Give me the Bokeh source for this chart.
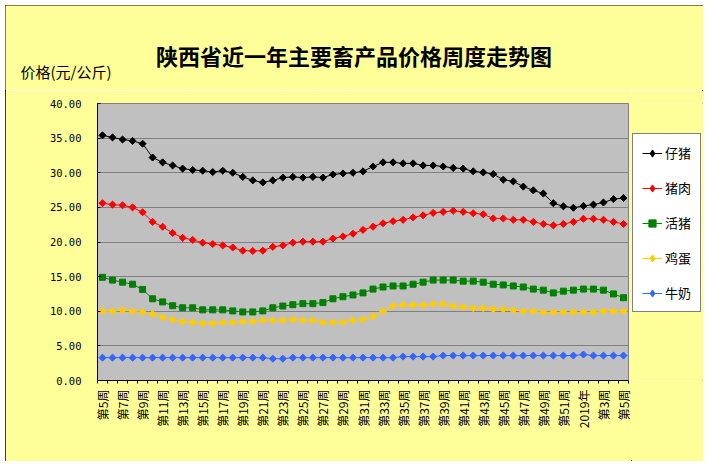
import numpy as np
from bokeh.plotting import figure
from bokeh.layouts import column, row
from bokeh.models import (ColumnDataSource, FixedTicker, Legend, LegendItem,
                          Label, Range1d, InlineStyleSheet)
from bokeh.embed import file_html
from bokeh.resources import INLINE

# ---------------- data ----------------
weeks = list(range(53))
tick_labels = ["第5周", "第7周", "第9周", "第11周", "第13周", "第15周", "第17周",
               "第19周", "第21周", "第23周", "第25周", "第27周", "第29周", "第31周",
               "第33周", "第35周", "第37周", "第39周", "第41周", "第43周", "第45周",
               "第47周", "第49周", "第51周", "2019年", "第3周", "第5周"]

piglet = [35.4, 35.1, 34.8, 34.6, 34.2, 32.2, 31.5, 31.05, 30.6, 30.4,
          30.3, 30.1, 30.3, 30.0, 29.4, 28.9, 28.6, 28.9, 29.3, 29.4,
          29.3, 29.4, 29.3, 29.75, 29.9, 30.0, 30.2,
          30.9, 31.5, 31.5, 31.35, 31.35, 31.05, 31.05, 30.9, 30.7, 30.6,
          30.2, 30.05, 29.8, 29.0, 28.75, 28.0, 27.45, 27.0, 25.6, 25.15,
          24.95, 25.2, 25.4, 25.7, 26.2, 26.35]
pork = [25.6, 25.4, 25.3, 25.0, 24.3, 22.9, 22.2, 21.3, 20.6, 20.3,
        19.9, 19.7, 19.5, 19.2, 18.75, 18.7, 18.75, 19.3, 19.5, 19.9,
        20.05, 20.05, 20.05, 20.5, 20.8, 21.2, 21.75,
        22.2, 22.7, 23.0, 23.2, 23.55, 23.85, 24.2, 24.35, 24.5, 24.35,
        24.15, 24.0, 23.4, 23.4, 23.2, 23.2, 22.9, 22.6, 22.4, 22.6,
        22.9, 23.35, 23.35, 23.2, 22.9, 22.6]
live_pig = [14.9, 14.5, 14.2, 13.9, 13.15, 11.8, 11.35, 10.8, 10.5, 10.5,
            10.2, 10.2, 10.2, 10.05, 9.9, 9.9, 10.05, 10.5, 10.75, 10.95,
            11.1, 11.1, 11.25, 11.8, 12.1, 12.35, 12.65,
            13.2, 13.5, 13.65, 13.65, 13.9, 14.2, 14.5, 14.5, 14.5, 14.35,
            14.35, 14.2, 13.9, 13.8, 13.65, 13.5, 13.2, 13.05, 12.65, 12.9,
            13.05, 13.2, 13.2, 13.05, 12.5, 11.95]
egg = [10.0, 10.0, 10.15, 10.0, 9.85, 9.6, 9.1, 8.8, 8.5, 8.4,
       8.25, 8.25, 8.4, 8.4, 8.55, 8.55, 8.7, 8.7, 8.7, 8.8,
       8.7, 8.7, 8.4, 8.4, 8.4, 8.7, 8.8,
       9.25, 10.0, 10.75, 10.9, 10.9, 10.9, 11.05, 11.05, 10.75, 10.6,
       10.45, 10.45, 10.3, 10.3, 10.15, 10.0, 10.0, 9.85, 9.85, 9.85,
       9.85, 9.85, 9.85, 10.0, 10.0, 10.0]
milk = [3.3] * 17 + [3.15, 3.15] + [3.3] * 11 + [3.45] * 4 + [3.6] * 14 + [3.75] + [3.6] * 4

series_names = ["仔猪", "猪肉", "活猪", "鸡蛋", "牛奶"]
y_ticks = [0, 5, 10, 15, 20, 25, 30, 35, 40]
y_tick_labels = ["0.00", "5.00", "10.00", "15.00", "20.00", "25.00", "30.00", "35.00", "40.00"]
title_text = "陕西省近一年主要畜产品价格周度走势图"
ylabel_text = "价格(元/公斤)"

CJK = "Noto Sans CJK SC"
BG = "#FFFF99"

# ---------------- header strip (title + y caption) ----------------
top = figure(width=698, height=85, output_backend="svg", toolbar_location=None,
             x_range=Range1d(0, 1), y_range=Range1d(0, 1),
             x_axis_location=None, y_axis_location=None, title=None,
             min_border=0, min_border_left=0, min_border_right=0,
             min_border_top=0, min_border_bottom=0)
top.grid.visible = False
top.outline_line_color = None
top.background_fill_color = BG
top.border_fill_color = BG
top.add_layout(Label(x=348.5, y=36, x_units="screen", y_units="screen",
                     text=title_text, text_align="center", text_baseline="middle",
                     text_font=CJK, text_font_size="22px", text_font_style="bold",
                     text_color="black"))
top.add_layout(Label(x=15, y=19, x_units="screen", y_units="screen",
                     text=ylabel_text, text_align="left", text_baseline="middle",
                     text_font=CJK, text_font_size="15px", text_color="black"))

# ---------------- main chart ----------------
p = figure(width=626, height=371, output_backend="svg", toolbar_location=None,
           x_range=Range1d(-0.5, 52.5), y_range=Range1d(0, 40), title=None,
           min_border_left=92, min_border_right=3, min_border_top=13,
           min_border_bottom=81)
p.background_fill_color = "#C0C0C0"
p.border_fill_color = BG
p.outline_line_color = "#808080"
p.xgrid.visible = False
p.ygrid.grid_line_color = "#808080"
p.ygrid.grid_line_width = 1

p.yaxis.ticker = FixedTicker(ticks=y_ticks)
p.yaxis.major_label_overrides = {t: s for t, s in zip(y_ticks, y_tick_labels)}
p.yaxis.major_tick_in = 3
p.yaxis.major_tick_out = 0
p.yaxis.minor_tick_line_color = None
p.yaxis.axis_line_color = "black"
p.yaxis.major_label_standoff = 16
p.yaxis.major_label_text_font = "DejaVu Sans Mono"
p.yaxis.major_label_text_font_size = "10.5px"
p.yaxis.major_label_text_color = "black"

label_pos = weeks[::2]
p.xaxis.ticker = FixedTicker(ticks=label_pos, minor_ticks=[w - 0.5 for w in weeks] + [52.5])
p.xaxis.major_label_overrides = {t: s for t, s in zip(label_pos, tick_labels)}
p.xaxis.major_tick_in = 0
p.xaxis.major_tick_out = 0
p.xaxis.minor_tick_in = 0
p.xaxis.minor_tick_out = 3
p.xaxis.minor_tick_line_color = "black"
p.xaxis.axis_line_color = "black"
p.xaxis.major_label_orientation = np.pi / 2
p.xaxis.major_label_standoff = 6
p.xaxis.major_label_text_font = CJK
p.xaxis.major_label_text_font_size = "12px"
p.xaxis.major_label_text_color = "black"

specs = [
    (piglet, "black", "diamond"),
    (pork, "#FF0000", "diamond"),
    (live_pig, "#008000", "square"),
    (egg, "#FFCC00", "diamond"),
    (milk, "#3366FF", "diamond"),
]

for vals, col, mk in specs:
    src = ColumnDataSource(dict(x=weeks, y=vals))
    p.line("x", "y", source=src, line_color=col, line_width=1)
    if mk == "diamond":
        p.scatter("x", "y", source=src, marker="square", size=5, angle=np.pi / 4,
                  fill_color=col, line_color=col)
    else:
        p.scatter("x", "y", source=src, marker="square", size=6,
                  fill_color=col, line_color=col)

# ---------------- legend strip ----------------
# its ranges keep the series out of view; they only feed the legend swatches
leg = figure(width=72, height=371, output_backend="svg", toolbar_location=None,
             x_range=Range1d(-0.5, 52.5), y_range=Range1d(100, 101),
             x_axis_location=None, y_axis_location=None, title=None,
             min_border=0, min_border_left=0, min_border_right=0,
             min_border_top=0, min_border_bottom=0)
leg.grid.visible = False
leg.outline_line_color = None
leg.background_fill_color = BG
leg.border_fill_color = BG
items = []
for name, (vals, col, mk) in zip(series_names, specs):
    src = ColumnDataSource(dict(x=weeks, y=vals))
    ln = leg.line("x", "y", source=src, line_color=col, line_width=1)
    sc = leg.scatter("x", "y", source=src, marker=mk, size=6,
                     fill_color=col, line_color=col)
    items.append(LegendItem(label=name, renderers=[ln, sc]))

legend = Legend(items=items, location=(1, 68))
legend.margin = 0
legend.border_line_color = "black"
legend.border_line_width = 1
legend.background_fill_color = "white"
legend.background_fill_alpha = 1
legend.padding = 9
legend.spacing = 16
legend.glyph_width = 20
legend.glyph_height = 18
legend.label_height = 18
legend.label_standoff = 3
legend.label_text_font = CJK
legend.label_text_font_size = "13px"
legend.label_text_color = "black"
leg.add_layout(legend, "center")

layout = column(top, row(p, leg, spacing=0), spacing=0,
                stylesheets=[InlineStyleSheet(css=":host { margin: 5px; outline: 1px solid black; outline-offset: -1px; }")])

open("out.html", "w").write(file_html(layout, INLINE))
